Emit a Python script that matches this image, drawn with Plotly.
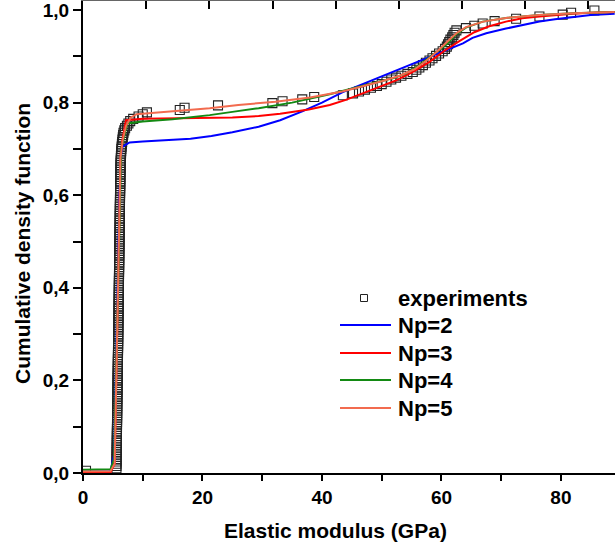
import plotly.graph_objects as go

# ---------------- data ----------------
# experimental cumulative distribution (elastic modulus in GPa, CDF)
exp_x = [0.5,
    5.600, 5.605, 5.610, 5.615, 5.620, 5.625, 5.630, 5.635, 5.640, 5.645,
    5.650, 5.655, 5.660, 5.665, 5.670, 5.675, 5.680, 5.685, 5.690, 5.695,
    5.700, 5.705, 5.710, 5.715, 5.720, 5.725, 5.730, 5.735, 5.740, 5.745,
    5.751, 5.756, 5.762, 5.767, 5.772, 5.778, 5.783, 5.788, 5.794, 5.799,
    5.804, 5.810, 5.815, 5.820, 5.826, 5.831, 5.836, 5.842, 5.847, 5.852,
    5.858, 5.863, 5.868, 5.874, 5.879, 5.884, 5.890, 5.895, 5.900, 5.905,
    5.910, 5.915, 5.920, 5.925, 5.930, 5.935, 5.940, 5.945, 5.950, 5.955,
    5.960, 5.965, 5.970, 5.975, 5.980, 5.985, 5.990, 5.995, 6.000, 6.005,
    6.010, 6.015, 6.020, 6.025, 6.030, 6.035, 6.040, 6.045, 6.050, 6.055,
    6.060, 6.065, 6.070, 6.075, 6.080, 6.085, 6.090, 6.095, 6.100, 6.105,
    6.110, 6.115, 6.120, 6.125, 6.130, 6.135, 6.140, 6.145, 6.150, 6.155,
    6.160, 6.165, 6.170, 6.175, 6.180, 6.185, 6.190, 6.195, 6.200, 6.207,
    6.213, 6.220, 6.227, 6.233, 6.240, 6.247, 6.253, 6.260, 6.267, 6.273,
    6.280, 6.287, 6.293, 6.300, 6.324, 6.348, 6.372, 6.396, 6.420, 6.465,
    6.510, 6.555, 6.600, 6.660, 6.720, 6.780, 6.915, 7.050, 7.350,
    7.6, 7.9, 8.4, 9.3, 10.0, 10.7, 16.2, 17.0, 22.6, 31.7,
    33.4, 36.7, 38.7, 43.5, 45.2, 46.2, 47.2, 48.2, 49.2, 50.0,
    50.8, 51.6, 52.4, 53.3, 54.3, 55.2, 55.8, 56.3, 56.9, 57.4,
    58.0, 58.5, 59.1, 59.6, 60.2, 60.6, 60.9, 61.1, 61.3, 61.5,
    61.8, 62.0, 62.2, 62.5, 64.1, 65.5, 66.9, 68.9, 72.5, 76.4,
    80.3, 81.7, 85.6]
exp_y = [0.005,
    0.010, 0.015, 0.020, 0.025, 0.030, 0.035, 0.040, 0.045, 0.050, 0.055,
    0.060, 0.065, 0.070, 0.075, 0.080, 0.085, 0.090, 0.095, 0.100, 0.105,
    0.110, 0.115, 0.120, 0.125, 0.130, 0.135, 0.140, 0.145, 0.150, 0.155,
    0.160, 0.165, 0.170, 0.175, 0.180, 0.185, 0.190, 0.195, 0.200, 0.205,
    0.210, 0.215, 0.220, 0.225, 0.230, 0.235, 0.240, 0.245, 0.250, 0.255,
    0.260, 0.265, 0.270, 0.275, 0.280, 0.285, 0.290, 0.295, 0.300, 0.305,
    0.310, 0.315, 0.320, 0.325, 0.330, 0.335, 0.340, 0.345, 0.350, 0.355,
    0.360, 0.365, 0.370, 0.375, 0.380, 0.385, 0.390, 0.395, 0.400, 0.405,
    0.410, 0.415, 0.420, 0.425, 0.430, 0.435, 0.440, 0.445, 0.450, 0.455,
    0.460, 0.465, 0.470, 0.475, 0.480, 0.485, 0.490, 0.495, 0.500, 0.505,
    0.510, 0.515, 0.520, 0.525, 0.530, 0.535, 0.540, 0.545, 0.550, 0.555,
    0.560, 0.565, 0.570, 0.575, 0.580, 0.585, 0.590, 0.595, 0.600, 0.605,
    0.610, 0.615, 0.620, 0.625, 0.630, 0.635, 0.640, 0.645, 0.650, 0.655,
    0.660, 0.665, 0.670, 0.675, 0.680, 0.685, 0.690, 0.695, 0.700, 0.705,
    0.710, 0.715, 0.720, 0.725, 0.730, 0.735, 0.740, 0.745, 0.750,
    0.755, 0.760, 0.765, 0.770, 0.775, 0.779, 0.784, 0.789, 0.794, 0.799,
    0.803, 0.807, 0.812, 0.816, 0.820, 0.824, 0.828, 0.832, 0.836, 0.840,
    0.845, 0.850, 0.854, 0.858, 0.862, 0.866, 0.871, 0.876, 0.881, 0.886,
    0.891, 0.896, 0.901, 0.906, 0.911, 0.916, 0.921, 0.926, 0.931, 0.936,
    0.941, 0.946, 0.951, 0.956, 0.961, 0.966, 0.971, 0.976, 0.981, 0.986,
    0.990, 0.994, 0.999]

np2_x = [0, 4.6, 5.2, 5.5, 5.8, 6.1, 6.4, 6.6, 7.8, 10, 15, 18, 21.5, 25, 29.4, 33, 36.7, 40,
         43.4, 46.8, 49.5, 52.4, 55, 58, 60.5, 63.6, 65.2, 67.5, 70.8, 73.5, 76.4, 79, 82, 85, 89]
np2_y = [0.003, 0.004, 0.04, 0.2, 0.4, 0.6, 0.69, 0.705, 0.714, 0.716, 0.719, 0.722, 0.728, 0.736,
         0.748, 0.762, 0.781, 0.800, 0.822, 0.840, 0.853, 0.869, 0.882, 0.898, 0.912, 0.928, 0.940,
         0.950, 0.960, 0.968, 0.975, 0.980, 0.985, 0.989, 0.992]

np3_x = [0, 4.6, 5.3, 5.55, 5.8, 6.05, 6.3, 6.6, 7.2, 10, 18, 25, 29.4, 33, 37.8, 41.3, 44, 46.8,
         49.5, 52.4, 55, 58, 60.5, 63, 65.5, 68, 70.8, 73.5, 76.4, 79, 82, 85, 89]
np3_y = [0.001, 0.001, 0.02, 0.2, 0.4, 0.55, 0.69, 0.72, 0.762, 0.765, 0.766, 0.768, 0.771, 0.776,
         0.785, 0.795, 0.806, 0.820, 0.833, 0.848, 0.865, 0.888, 0.912, 0.933, 0.952, 0.965, 0.975,
         0.982, 0.986, 0.989, 0.992, 0.994, 0.996]

np4_x = [0, 4.6, 5.2, 5.5, 5.8, 6.1, 6.4, 7.4, 10, 15, 18, 21.2, 25, 29.4, 35, 41.3, 45.2, 49.6,
         52, 54.1, 56.3, 58.5, 60.8, 62.5, 64.1, 66.9, 70.8, 76.4, 82, 89]
np4_y = [0.007, 0.008, 0.03, 0.2, 0.4, 0.6, 0.7, 0.755, 0.759, 0.764, 0.768, 0.773, 0.780, 0.788,
         0.800, 0.818, 0.831, 0.845, 0.853, 0.863, 0.881, 0.903, 0.925, 0.948, 0.962, 0.975, 0.983,
         0.989, 0.993, 0.996]

np5_x = [0, 4.6, 5.3, 5.56, 5.8, 6.0, 6.28, 6.66, 7.2, 8, 9, 12, 18, 21.2, 26, 32.2, 38, 43.4,
         47, 50, 53, 55.5, 57.5, 59.5, 61, 62.5, 64.1, 67, 70.8, 76.4, 82, 89]
np5_y = [0.003, 0.004, 0.02, 0.22, 0.4, 0.52, 0.68, 0.72, 0.75, 0.768, 0.775, 0.778, 0.784, 0.788,
         0.795, 0.802, 0.811, 0.824, 0.836, 0.846, 0.858, 0.872, 0.891, 0.913, 0.932, 0.950, 0.963,
         0.975, 0.983, 0.989, 0.993, 0.996]

legend_labels = ["experiments", "Np=2", "Np=3", "Np=4", "Np=5"]
y_ticks = [0.0, 0.2, 0.4, 0.6, 0.8, 1.0]
x_ticks = [0, 20, 40, 60, 80]
x_title = "Elastic modulus (GPa)"
y_title = "Cumulative density function"

# ---------------- styling ----------------
FONT = "Liberation Sans, Arial, sans-serif"
colors = ["#0000ff", "#ff0000", "#138a13", "#f26b4f"]

fig = go.Figure()
fig.add_trace(go.Scatter(
    x=exp_x, y=exp_y, mode="markers", name="experiments", showlegend=False,
    marker=dict(symbol="square-open", size=9, color="#222222", line=dict(width=1.1, color="#222222"))))

for xs, ys, c, nm in zip([np2_x, np3_x, np4_x, np5_x], [np2_y, np3_y, np4_y, np5_y], colors,
                         legend_labels[1:]):
    fig.add_trace(go.Scatter(x=xs, y=ys, mode="lines", name=nm, showlegend=False,
                             line=dict(color=c, width=2)))

# invisible copy on the top axis so that the top tick axis is rendered
fig.add_trace(go.Scatter(x=exp_x[:1], y=exp_y[:1], xaxis="x2", mode="markers",
                         marker=dict(opacity=0), showlegend=False, hoverinfo="skip"))

L, R, T, B = 83, 0, 1, 77
W, H = 615 - L - R, 550 - T - B

def px(xp):
    return (xp - L) / W

def py(yp):
    return (550 - B - yp) / H

# manual legend
shapes = []
annotations = []
rows = [298, 325, 353, 380, 408]
shapes.append(dict(type="rect", xref="paper", yref="paper",
                   x0=px(360.5), x1=px(367.5), y0=py(301.5), y1=py(294.5),
                   line=dict(color="#222222", width=1), fillcolor="rgba(0,0,0,0)"))
for r, c in zip(rows[1:], colors):
    shapes.append(dict(type="line", xref="paper", yref="paper",
                       x0=px(340), x1=px(391), y0=py(r), y1=py(r),
                       line=dict(color=c, width=2)))
for r, lab in zip(rows, legend_labels):
    annotations.append(dict(text=lab, xref="paper", yref="paper", x=px(396), y=py(r),
                            xanchor="left", yanchor="middle", showarrow=False,
                            font=dict(family=FONT, size=22, color="black", weight="bold")))

# axis titles
annotations.append(dict(text=x_title, xref="paper", yref="paper", x=px(335), y=py(530),
                        xanchor="center", yanchor="middle", showarrow=False,
                        font=dict(family=FONT, size=21, color="black", weight="bold")))
annotations.append(dict(text=y_title, xref="paper", yref="paper", x=px(22), y=py(244),
                        xanchor="center", yanchor="middle", showarrow=False, textangle=-90,
                        font=dict(family=FONT, size=21, color="black", weight="bold")))

fig.update_layout(
    width=615, height=550, autosize=False,
    margin=dict(l=L, r=R, t=T, b=B, pad=0),
    paper_bgcolor="white", plot_bgcolor="white",
    separators=",.",
    shapes=shapes, annotations=annotations,
    xaxis=dict(range=[0, 89.05], tickmode="array", tickvals=x_ticks,
               ticks="outside", ticklen=6, tickwidth=2, tickcolor="black",
               minor=dict(dtick=10, tick0=0, ticks="outside", ticklen=6, tickwidth=2, tickcolor="black"),
               showline=True, linecolor="black", linewidth=2, showgrid=False, zeroline=False,
               tickfont=dict(family=FONT, size=19, color="black", weight="bold")),
    xaxis2=dict(overlaying="x", side="top", anchor="y", range=[0, 84.2], dtick=10, tick0=0,
                tickmode="linear",
                ticks="inside", ticklen=8, tickwidth=2, tickcolor="black",
                showticklabels=False, showline=True, linecolor="#666666", linewidth=1.5,
                showgrid=False, zeroline=False),
    yaxis=dict(range=[0, 1.0195], tickmode="array", tickvals=y_ticks, tickformat=".1f",
               ticklabeloverflow="allow",
               ticks="outside", ticklen=8, tickwidth=2, tickcolor="black",
               minor=dict(dtick=0.1, tick0=0, ticks="outside", ticklen=8, tickwidth=2, tickcolor="black"),
               showline=True, linecolor="black", linewidth=2, showgrid=False, zeroline=False,
               tickfont=dict(family=FONT, size=19, color="black", weight="bold")),
)

fig.write_html("out.html")
